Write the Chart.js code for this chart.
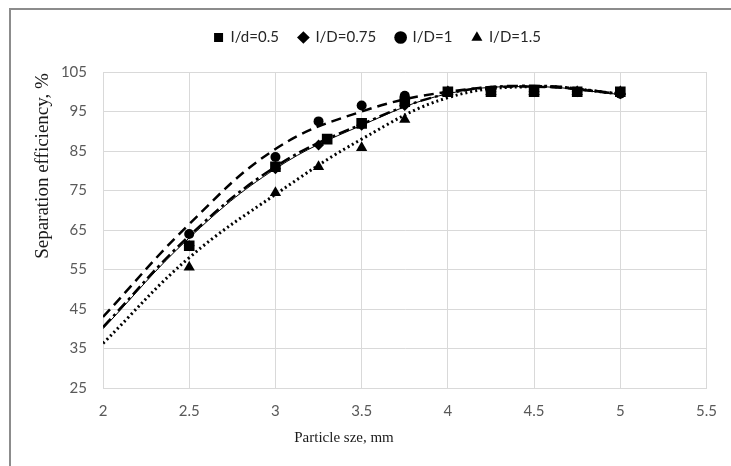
<!DOCTYPE html>
<html>
<head>
<meta charset="utf-8">
<script src="https://cdn.jsdelivr.net/npm/chart.js@4"></script>
<style>
  body { margin: 0; background: #fff; }
  #wrap { position: relative; width: 731px; height: 466px; }
  #frame { position: absolute; left: 9px; top: 8px; right: 0; bottom: 0;
           border-left: 2px solid #8c8c8c; border-top: 2px solid #8c8c8c; pointer-events: none; }
</style>
</head>
<body>
<div id="wrap">
  <canvas id="myChart" width="731" height="466"></canvas>
  <div id="frame"></div>
</div>
<script>
// measured points
const sqX = [2.5, 3, 3.3, 3.5, 3.75, 4, 4.25, 4.5, 4.75, 5];
const sqY = [61, 81, 88, 92, 97.5, 100, 100, 100, 100, 100];
const diX = [2.5, 3, 3.25, 3.5, 3.75, 4, 4.25, 4.5, 4.75, 5];
const diY = [61, 80.5, 86.5, 91.5, 96.5, 100, 100, 100, 100, 99.5];
const ciX = [2.5, 3, 3.25, 3.5, 3.75, 4, 4.25, 4.5, 4.75, 5];
const ciY = [64, 83.5, 92.5, 96.5, 99, 100, 100, 100, 100, 99.5];
const trX = [2.5, 3, 3.25, 3.5, 3.75, 4, 4.25, 4.5, 4.75, 5];
const trY = [55.6, 74.4, 81, 85.8, 93, 100, 100, 100, 100, 100];

// trendlines
const trendX = [2, 2.5, 3, 3.5, 4, 4.5, 5];
const trendSq = [40.4, 63.5, 81, 91.8, 99.5, 101.5, 99.5];
const trendDi = [40, 63, 80.5, 91.5, 99.5, 101.3, 99.3];
const trendCi = [43, 66.5, 85.5, 95, 100, 101.3, 99.5];
const trendTr = [36.3, 58, 74, 88, 98.5, 101.3, 99.5];

const labels = ['I/d=0.5', 'I/D=0.75', 'I/D=1', 'I/D=1.5'];
const xTitle = 'Particle sze, mm';
const yTitle = 'Separation efficiency, %';

const pts = (xs, ys) => xs.map((x, i) => ({ x: x, y: ys[i] }));

// axis titles sit off-centre in the original, draw them by hand
const axisTitles = {
  id: 'axisTitles',
  afterDraw(chart) {
    const c = chart.ctx;
    c.save();
    c.fillStyle = '#1a1a1a';
    c.textAlign = 'center';
    c.textBaseline = 'middle';
    c.font = '15px "Liberation Serif"';
    c.fillText(xTitle, 344, 438);
    c.translate(43, 166);
    c.rotate(-Math.PI / 2);
    c.font = '19px "Liberation Serif"';
    c.fillText(yTitle, 0, 0);
    c.restore();
  }
};

const markerSet = (label, data, style, r) => ({
  label: label, data: data, showLine: false, order: 0,
  pointStyle: style, pointRadius: r, pointHoverRadius: r,
  backgroundColor: '#000', borderColor: '#000', borderWidth: 0
});
const trendSet = (data, width, dash) => ({
  data: data, showLine: true, order: 1, pointRadius: 0, tension: 0.4,
  borderColor: '#000', borderWidth: width, borderDash: dash, fill: false
});

const tickFont = { family: 'Lato', size: 15 };

new Chart(document.getElementById('myChart'), {
  type: 'scatter',
  data: {
    datasets: [
      markerSet(labels[0], pts(sqX, sqY), 'rect', 7.5),
      markerSet(labels[1], pts(diX, diY), 'rectRot', 5.5),
      markerSet(labels[2], pts(ciX, ciY), 'circle', 5),
      markerSet(labels[3], pts(trX, trY), 'triangle', 6.5),
      trendSet(pts(trendX, trendSq), 2.5, [11, 4, 3, 4]),
      trendSet(pts(trendX, trendDi), 1, []),
      trendSet(pts(trendX, trendCi), 2.5, [10, 6]),
      trendSet(pts(trendX, trendTr), 3, [2, 3])
    ]
  },
  options: {
    responsive: false,
    animation: false,
    layout: { padding: { left: 40, right: 16, top: 10, bottom: 0 } },
    plugins: {
      tooltip: { enabled: false },
      legend: {
        position: 'top',
        labels: {
          filter: (item) => item.datasetIndex < 4,
          usePointStyle: true,
          boxWidth: 9, boxHeight: 9,
          padding: 20,
          color: '#262626',
          font: { family: 'Lato', size: 15 }
        }
      }
    },
    scales: {
      x: {
        type: 'linear', min: 2, max: 5.5,
        ticks: { stepSize: 0.5, padding: 14, color: '#595959', font: tickFont,
                 callback: (v) => String(v) },
        grid: { color: '#d9d9d9', drawTicks: false },
        border: { color: '#d9d9d9' },
        afterFit: (s) => { s.height = 78; }
      },
      // empty strip under the legend
      gap: {
        type: 'linear', position: 'top', min: 0, max: 1,
        ticks: { display: false },
        grid: { display: false, drawTicks: false },
        border: { display: false },
        afterFit: (s) => { s.height = 17; }
      },
      y: {
        min: 25, max: 105,
        ticks: { stepSize: 10, padding: 16, color: '#595959', font: tickFont },
        grid: { color: '#d9d9d9', drawTicks: false },
        border: { color: '#d9d9d9' },
        afterFit: (s) => { s.width = 63; }
      }
    }
  },
  plugins: [axisTitles]
});
</script>
</body>
</html>
